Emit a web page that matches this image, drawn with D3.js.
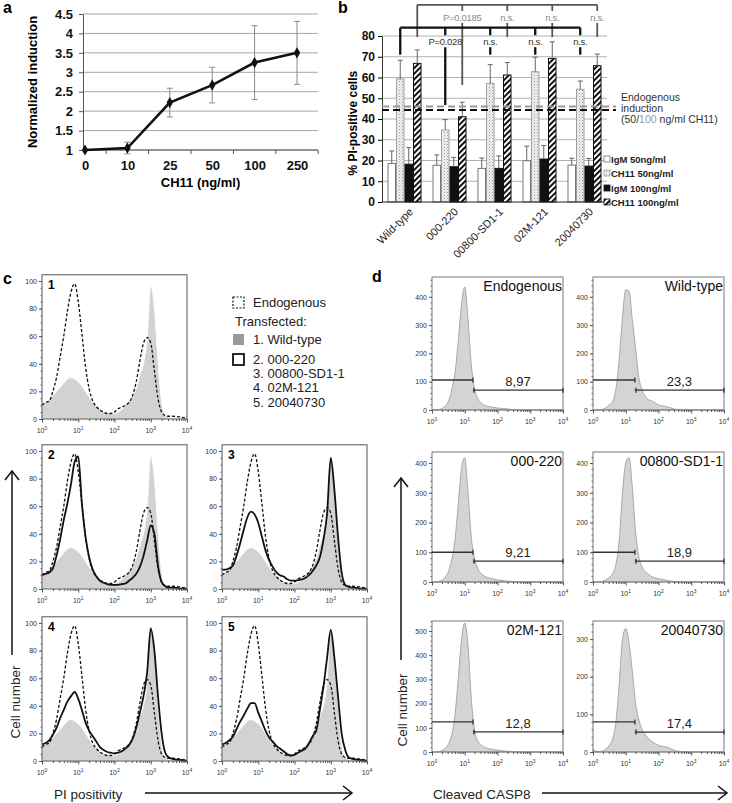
<!DOCTYPE html>
<html>
<head>
<meta charset="utf-8">
<script src="https://cdn.jsdelivr.net/npm/d3@7"></script>
<style>
  body { margin: 0; background: #fff; }
  svg { display: block; }
</style>
</head>
<body>
<div id="fig"></div>
<script>
// ---------- Data: panel a (dose response) ----------
const doseLabels = ['0', '10', '25', '50', '100', '250'];
const induction = [1.0, 1.05, 2.22, 2.67, 3.25, 3.5];
const inductionErr = [0, 0.15, 0.37, 0.46, 0.95, 0.81];
const inductionTicks = [1, 1.5, 2, 2.5, 3, 3.5, 4, 4.5];

// ---------- Data: panel b (% PI-positive cells) ----------
const strains = ['Wild-type', '000-220', '00800-SD1-1', '02M-121', '20040730'];
const treatments = ['IgM 50ng/ml', 'CH11 50ng/ml', 'IgM 100ng/ml', 'CH11 100ng/ml'];
const igm50 = [18.6, 17.7, 16.2, 19.9, 17.8];
const ch11_50 = [59.3, 34.7, 57.2, 62.8, 54.3];
const igm100 = [18.2, 17.0, 16.2, 20.7, 17.3];
const ch11_100 = [66.8, 41.1, 61.2, 69.2, 65.7];
const igm50Err = [6, 5, 5, 7, 3.3];
const ch11_50Err = [9, 5, 9, 7, 4];
const igm100Err = [8, 4.5, 6, 6.5, 3.7];
const ch11_100Err = [6.5, 7, 6, 8, 5.6];
const pctTicks = [0, 10, 20, 30, 40, 50, 60, 70, 80];
const endogenous50 = 44.3;
const endogenous100 = 46;
const pLabels50 = ['', 'P=0.028', 'n.s.', 'n.s.', 'n.s.'];
const pLabels100 = ['', 'P=0.0185', 'n.s.', 'n.s.', 'n.s.'];
const bracketLevel50 = 84;
const bracketLevel100 = 95;
const labelLevel50 = 77;
const labelLevel100 = 88.7;
const dropEnd50 = [71, 46.7, 71, 71, 71];
const dropEnd100 = [79.5, 56.4, 79.5, 79.5, 79.5];

// ---------- Data: panel c (PI histograms, x in log10 units) ----------
const logBins = [0, 0.1, 0.2, 0.3, 0.4, 0.5, 0.6, 0.7, 0.8, 0.9, 1.0, 1.1, 1.2, 1.3, 1.4, 1.5, 1.6, 1.7, 1.8, 1.9,
                 2.0, 2.1, 2.2, 2.3, 2.4, 2.5, 2.6, 2.7, 2.8, 2.9, 3.0, 3.1, 3.2, 3.3, 3.4, 3.5, 3.6, 3.7, 3.8, 3.9, 4.0];
const piEndogenous = [10, 12, 13, 20, 30, 45, 60, 78, 92, 98, 85, 62, 38, 22, 13, 9, 6.5, 5, 4, 4,
                      5, 7.5, 8.5, 10, 12, 17, 27, 42, 55, 59, 55, 35, 15, 5, 2.5, 2, 2, 1.8, 1.5, 1, 0.5];
const piWildType = [10, 12, 14, 17, 20, 23, 26, 29, 30, 29, 27, 24, 20, 16, 12, 9, 7, 5, 4.5, 4,
                    4, 5, 7, 10, 13, 17, 22, 32, 40, 58, 97, 80, 42, 12, 3, 1, 0.5, 0.3, 0.2, 0.1, 0];
const pi000_220 = [10, 11, 12, 15, 24, 36, 50, 62, 76, 92, 96, 62, 38, 23, 14, 9, 6, 4.5, 3.5, 3,
                   3, 3, 3.5, 4, 6, 8, 11, 16, 24, 35, 46, 40, 17, 5, 2, 1, 1, 0.8, 0.5, 0.3, 0.2];
const pi00800 = [14, 14, 15, 17, 24, 33, 43, 52, 56, 54, 48, 38, 28, 21, 16, 12, 10, 9, 7, 6,
                 6, 6.5, 7, 8, 10, 13, 17, 23, 36, 55, 95, 72, 38, 12, 3, 1.5, 1, 0.8, 0.5, 0.3, 0.2];
const pi02M = [12, 13, 15, 19, 24, 31, 37, 43, 47, 50, 45, 37, 28, 22, 18, 14, 10, 8, 6.5, 6,
               5.5, 6, 7, 9, 11.5, 16, 24, 35, 47, 64, 96, 80, 47, 20, 6, 2.5, 1.5, 1, 0.8, 0.5, 0.3];
const pi2004 = [12, 13, 15, 17.5, 23, 28.5, 33, 38, 42, 42, 35, 28.5, 22, 17, 14, 11, 9, 7, 5, 4,
                4.5, 6, 7.5, 9, 13, 18, 22, 37, 54, 75, 95, 75, 47, 20, 8, 2.5, 1.5, 1, 0.8, 0.5, 0.3];
const legendItems = ['1. Wild-type', '2. 000-220', '3. 00800-SD1-1', '4. 02M-121', '5. 20040730'];

// ---------- Data: panel d (cleaved CASP8 histograms) ----------
const casp8Names = ['Endogenous', 'Wild-type', '000-220', '00800-SD1-1', '02M-121', '20040730'];
const casp8Endogenous = [0, 0, 1, 5, 14, 30, 70, 130, 240, 370, 435, 320, 160, 75, 40, 25, 17, 13, 11, 9,
                         7, 6, 5, 4, 2, 1, 0.5, 0.5, 0, 0, 0, 0, 0, 0, 0, 0, 0, 0, 0, 0, 0];
const casp8WildType = [0, 0, 1, 3, 8, 18, 30, 75, 180, 330, 425, 420, 320, 220, 115, 70, 48, 36, 32, 25,
                       18, 15, 13, 10, 7, 3, 1, 0.5, 0, 0, 0, 0, 0, 0, 0, 0, 0, 0, 0, 0, 0];
const casp8_000 = [0, 0, 2, 6, 16, 35, 75, 140, 260, 380, 418, 300, 150, 80, 45, 28, 20, 15, 12, 9,
                   7, 6, 4, 3, 2, 1, 0.5, 0, 0, 0, 0, 0, 0, 0, 0, 0, 0, 0, 0, 0, 0];
const casp8_00800 = [0, 0, 1, 3, 8, 16, 28, 60, 140, 300, 400, 418, 320, 170, 85, 50, 35, 25, 18, 14,
                     11, 9, 7, 5, 3, 1.5, 1, 0.5, 0, 0, 0, 0, 0, 0, 0, 0, 0, 0, 0, 0, 0];
const casp8_02M = [0, 0, 1, 5, 14, 32, 70, 150, 300, 460, 533, 440, 220, 90, 45, 28, 20, 15, 12, 10,
                   8, 6, 4, 3, 2, 1, 0.5, 0, 0, 0, 0, 0, 0, 0, 0, 0, 0, 0, 0, 0, 0];
const casp8_2004 = [8, 2, 1, 3, 8, 18, 35, 80, 180, 300, 328, 290, 215, 130, 85, 60, 45, 35, 28, 22,
                    18, 15, 14, 12, 8, 4, 2, 1, 0.5, 0, 0, 0, 0, 0, 0, 0, 0, 0, 0, 0, 0];
const casp8Percent = ['8,97', '23,3', '9,21', '18,9', '12,8', '17,4'];
const casp8Cut = [1.25, 1.28, 1.25, 1.28, 1.25, 1.28];
const casp8LeftLevel = [106, 106, 100, 100, 124, 80];
const casp8RightLevel = [70, 70, 70, 70, 83, 53];
const casp8Max = [470, 470, 437, 437, 541, 348];

const FONT = "'Liberation Sans', Arial, Helvetica, sans-serif";

const svg = d3.select('#fig')
              .append('svg')
              .attr('width', 732)
              .attr('height', 803)
              .style('font-family', FONT);

function panelLetter(x, y, t) {
    svg.append('text')
       .attr('x', x).attr('y', y)
       .style('font-size', '16px')
       .style('font-weight', 'bold')
       .text(t);
}

// =================== Panel a ===================
panelLetter(3, 13, 'a');

const aX = d3.scalePoint().domain(doseLabels).range([85, 297]);
const aY = d3.scaleLinear().domain([1, 4.5]).range([150, 14]);
const aLeft = 83, aRight = 318;

// Gridlines
svg.append('g')
   .selectAll('line')
   .data(inductionTicks)
   .enter()
   .append('line')
   .attr('x1', aLeft).attr('x2', aRight)
   .attr('y1', (d) => aY(d)).attr('y2', (d) => aY(d))
   .attr('stroke', '#a8a8a8');

// y-axis
svg.append('g')
   .attr('transform', 'translate(' + aLeft + ',0)')
   .call(d3.axisLeft(aY).tickValues(inductionTicks).tickSize(4).tickSizeOuter(0).tickPadding(6).tickFormat(d3.format('')))
   .attr('font-family', FONT)
   .call((g) => g.select('.domain').attr('stroke', '#555'))
   .call((g) => g.selectAll('line').attr('stroke', '#555'))
   .call((g) => g.selectAll('text').style('font-size', '13px').style('font-weight', 'bold').attr('fill', '#111'));

// x-axis (ticks between categories)
svg.append('line')
   .attr('x1', aLeft).attr('x2', aRight)
   .attr('y1', aY(1)).attr('y2', aY(1))
   .attr('stroke', '#555');
svg.append('g')
   .selectAll('line')
   .data(doseLabels)
   .enter()
   .append('line')
   .attr('x1', (d) => aX(d) + aX.step() / 2).attr('x2', (d) => aX(d) + aX.step() / 2)
   .attr('y1', aY(1)).attr('y2', aY(1) + 4)
   .attr('stroke', '#555');
svg.append('g')
   .attr('transform', 'translate(0,' + aY(1) + ')')
   .call(d3.axisBottom(aX).tickSize(0).tickPadding(11))
   .attr('font-family', FONT)
   .call((g) => g.select('.domain').remove())
   .call((g) => g.selectAll('text').style('font-size', '13px').style('font-weight', 'bold').attr('fill', '#111'));

// Error bars
const aErr = svg.append('g').attr('stroke', '#8a8a8a').attr('stroke-width', 1);
doseLabels.forEach(function (d, i) {
    if (inductionErr[i] === 0) return;
    const x = aX(d);
    const lo = aY(induction[i] - inductionErr[i]);
    const hi = aY(induction[i] + inductionErr[i]);
    aErr.append('line').attr('x1', x).attr('x2', x).attr('y1', lo).attr('y2', hi);
    aErr.append('line').attr('x1', x - 3).attr('x2', x + 3).attr('y1', lo).attr('y2', lo);
    aErr.append('line').attr('x1', x - 3).attr('x2', x + 3).attr('y1', hi).attr('y2', hi);
});

// Line + diamond markers
svg.append('path')
   .datum(induction)
   .attr('fill', 'none')
   .attr('stroke', '#111')
   .attr('stroke-width', 2.6)
   .attr('d', d3.line().x((d, i) => aX(doseLabels[i])).y((d) => aY(d)));

svg.selectAll('path.diamond')
   .data(induction)
   .enter()
   .append('path')
   .attr('class', 'diamond')
   .attr('transform', (d, i) => 'translate(' + aX(doseLabels[i]) + ',' + aY(d) + ')')
   .attr('d', d3.symbol(d3.symbolDiamond).size(36))
   .attr('fill', '#111');

// Axis titles
svg.append('text')
   .attr('x', (aLeft + aRight) / 2).attr('y', 187)
   .attr('text-anchor', 'middle')
   .style('font-size', '13px').style('font-weight', 'bold')
   .text('CH11 (ng/ml)');
svg.append('text')
   .attr('text-anchor', 'middle')
   .attr('transform', 'translate(37,' + (aY(1) + aY(4.5)) / 2 + ')rotate(-90)')
   .style('font-size', '13px').style('font-weight', 'bold')
   .text('Normalized induction');

// =================== Panel b ===================
panelLetter(338, 13, 'b');

const defs = svg.append('defs');
const dots = defs.append('pattern')
                 .attr('id', 'dots')
                 .attr('patternUnits', 'userSpaceOnUse')
                 .attr('width', 3).attr('height', 3);
dots.append('rect').attr('width', 3).attr('height', 3).attr('fill', '#f2f2f2');
dots.append('rect').attr('width', 1).attr('height', 1).attr('fill', '#9a9a9a');
dots.append('rect').attr('x', 1.5).attr('y', 1.5).attr('width', 1).attr('height', 1).attr('fill', '#bbbbbb');

const hatch = defs.append('pattern')
                  .attr('id', 'hatch')
                  .attr('patternUnits', 'userSpaceOnUse')
                  .attr('width', 4).attr('height', 4)
                  .attr('patternTransform', 'rotate(45)');
hatch.append('rect').attr('width', 4).attr('height', 4).attr('fill', '#fff');
hatch.append('line').attr('x1', 1).attr('x2', 1).attr('y1', 0).attr('y2', 4)
     .attr('stroke', '#111').attr('stroke-width', 2);

const bX = d3.scaleBand().domain(strains).range([382, 607]).paddingInner(0.244).paddingOuter(0.122);
const bSub = d3.scaleBand().domain(treatments).range([0, bX.bandwidth()]);
const bY = d3.scaleLinear().domain([0, 80]).range([202, 36]);

const seriesValues = [igm50, ch11_50, igm100, ch11_100];
const seriesErr = [igm50Err, ch11_50Err, igm100Err, ch11_100Err];
const barFill = ['#ffffff', 'url(#dots)', '#111111', 'url(#hatch)'];
const barStroke = ['#777', '#a0a0a0', '#111', '#111'];

// Gridlines
svg.append('g')
   .selectAll('line')
   .data(pctTicks.slice(1))
   .enter()
   .append('line')
   .attr('x1', 382).attr('x2', 607)
   .attr('y1', (d) => bY(d)).attr('y2', (d) => bY(d))
   .attr('stroke', '#b0b0b0');

// Bars
const barRows = [];
strains.forEach(function (s, i) {
    treatments.forEach(function (t, j) {
        barRows.push({ s: s, t: t, j: j, v: seriesValues[j][i], e: seriesErr[j][i] });
    });
});

svg.append('g')
   .selectAll('rect')
   .data(barRows)
   .enter()
   .append('rect')
   .attr('x', (d) => bX(d.s) + bSub(d.t) + 0.5)
   .attr('y', (d) => bY(d.v))
   .attr('width', bSub.bandwidth() - 1)
   .attr('height', (d) => bY(0) - bY(d.v))
   .attr('fill', (d) => barFill[d.j])
   .attr('stroke', (d) => barStroke[d.j])
   .attr('stroke-width', 1);

// Error bars (upper only)
const bErr = svg.append('g').attr('stroke', '#666').attr('stroke-width', 1);
barRows.forEach(function (d) {
    const x = bX(d.s) + bSub(d.t) + bSub.bandwidth() / 2;
    bErr.append('line').attr('x1', x).attr('x2', x).attr('y1', bY(d.v)).attr('y2', bY(d.v + d.e));
    bErr.append('line').attr('x1', x - 2.5).attr('x2', x + 2.5).attr('y1', bY(d.v + d.e)).attr('y2', bY(d.v + d.e));
});

// Axes
svg.append('line')
   .attr('x1', 382).attr('x2', 607)
   .attr('y1', bY(0)).attr('y2', bY(0))
   .attr('stroke', '#222');
svg.append('g')
   .attr('transform', 'translate(382,0)')
   .call(d3.axisLeft(bY).tickValues(pctTicks).tickSize(4).tickSizeOuter(0).tickPadding(3))
   .attr('font-family', FONT)
   .call((g) => g.select('.domain').attr('stroke', '#333'))
   .call((g) => g.selectAll('text').style('font-size', '12px').style('font-weight', 'bold').attr('fill', '#111'));

svg.append('g')
   .selectAll('text')
   .data(strains)
   .enter()
   .append('text')
   .attr('text-anchor', 'end')
   .attr('transform', (d) => 'translate(' + (bX(d) + bX.bandwidth() / 2 + 4) + ',' + (bY(0) + 5) + ')rotate(-45)')
   .attr('dy', '0.7em')
   .style('font-size', '11px')
   .attr('fill', '#222')
   .text((d) => d);

svg.append('text')
   .attr('text-anchor', 'middle')
   .attr('transform', 'translate(357,' + bY(38) + ')rotate(-90)')
   .style('font-size', '12px').style('font-weight', 'bold')
   .text('% PI-positive cells');

// Endogenous induction dashed lines
[[endogenous100, '#9a9a9a'], [endogenous50, '#111']].forEach(function (e) {
    svg.append('line')
       .attr('x1', 382).attr('x2', 616)
       .attr('y1', bY(e[0])).attr('y2', bY(e[0]))
       .attr('stroke', e[1])
       .attr('stroke-width', 2)
       .attr('stroke-dasharray', '7,4');
});
const endoText = svg.append('g').style('font-size', '10.5px').attr('fill', '#333');
endoText.append('text').attr('x', 621).attr('y', 101).text('Endogenous');
endoText.append('text').attr('x', 621).attr('y', 112).text('induction');
const endoLast = endoText.append('text').attr('x', 621).attr('y', 123);
endoLast.append('tspan').text('(50/');
endoLast.append('tspan').attr('fill', '#999').text('100');
endoLast.append('tspan').text(' ng/ml CH11)');

// Significance brackets
function bracket(j, level, labelLevel, labels, ends, color, width, labelColor) {
    const g = svg.append('g').attr('stroke', color).attr('stroke-width', width).attr('fill', 'none');
    const xs = strains.map((s) => bX(s) + bSub(treatments[j]) + bSub.bandwidth() / 2);
    g.append('line')
     .attr('x1', xs[0]).attr('x2', xs[xs.length - 1])
     .attr('y1', bY(level)).attr('y2', bY(level));
    strains.forEach(function (s, i) {
        if (labels[i] === '') {
            g.append('line').attr('x1', xs[i]).attr('x2', xs[i])
             .attr('y1', bY(level)).attr('y2', bY(ends[i]));
        } else {
            g.append('line').attr('x1', xs[i]).attr('x2', xs[i])
             .attr('y1', bY(level)).attr('y2', bY(labelLevel) - 7);
            g.append('line').attr('x1', xs[i]).attr('x2', xs[i])
             .attr('y1', bY(labelLevel) + 5).attr('y2', bY(ends[i]));
            svg.append('text')
               .attr('x', xs[i]).attr('y', bY(labelLevel) + 3)
               .attr('text-anchor', 'middle')
               .style('font-size', '9.5px')
               .style('letter-spacing', '-0.3px')
               .attr('fill', labelColor)
               .text(labels[i]);
        }
    });
}
bracket(3, bracketLevel100, labelLevel100, pLabels100, dropEnd100, '#555', 1.8, '#8a8a8a');
bracket(1, bracketLevel50, labelLevel50, pLabels50, dropEnd50, '#111', 2.3, '#333');

// Legend
const bLegend = svg.append('g');
treatments.forEach(function (t, j) {
    const y = [160, 174, 189, 203][j];
    bLegend.append('rect')
           .attr('x', 604).attr('y', y - 4)
           .attr('width', 6).attr('height', 6)
           .attr('fill', barFill[j]).attr('stroke', barStroke[j]).attr('stroke-width', 0.8);
    bLegend.append('text')
           .attr('x', 611).attr('y', y + 2.5)
           .style('font-size', '9.5px').style('font-weight', 'bold')
           .attr('fill', '#222')
           .text(t);
});

// =================== Shared flow-histogram helpers ===================
function logXAxis(g, fx, y0) {
    const minor = [];
    [0, 1, 2, 3].forEach(function (dec) {
        for (let k = 2; k < 10; k++) minor.push(dec + Math.log10(k));
    });
    g.append('g')
     .attr('transform', 'translate(0,' + y0 + ')')
     .call(d3.axisBottom(fx).tickValues(minor).tickSize(2).tickFormat(''))
     .call((a) => a.select('.domain').remove())
     .call((a) => a.selectAll('line').attr('stroke', '#555'));
    g.append('g')
     .attr('transform', 'translate(0,' + y0 + ')')
     .call(d3.axisBottom(fx).tickValues([0, 1, 2, 3, 4]).tickSize(3.5).tickFormat(''))
     .call((a) => a.select('.domain').remove())
     .call((a) => a.selectAll('line').attr('stroke', '#555'));
    [0, 1, 2, 3, 4].forEach(function (p) {
        const t = g.append('text')
                   .attr('x', fx(p)).attr('y', y0 + 14)
                   .attr('text-anchor', 'middle')
                   .attr('fill', '#333');
        t.append('tspan').style('font-size', '7px').text('10');
        t.append('tspan').style('font-size', '5px').attr('dy', -3.5).text(p);
    });
}

function countYAxis(g, fy, x0, major, minor) {
    g.append('g')
     .attr('transform', 'translate(' + x0 + ',0)')
     .call(d3.axisLeft(fy).tickValues(minor).tickSize(1.5).tickFormat(''))
     .call((a) => a.select('.domain').remove())
     .call((a) => a.selectAll('line').attr('stroke', '#666'));
    g.append('g')
     .attr('transform', 'translate(' + x0 + ',0)')
     .call(d3.axisLeft(fy).tickValues(major).tickSize(3).tickPadding(2))
     .attr('font-family', FONT)
     .call((a) => a.select('.domain').remove())
     .call((a) => a.selectAll('line').attr('stroke', '#555'))
     .call((a) => a.selectAll('text').style('font-size', '7px').attr('fill', '#333'));
}

// =================== Panel c ===================
panelLetter(3, 284, 'c');

const piLayout = [
    { id: '1', series: null,      x0: 42,  y0: 419 },
    { id: '2', series: pi000_220, x0: 42,  y0: 589 },
    { id: '3', series: pi00800,   x0: 222, y0: 589 },
    { id: '4', series: pi02M,     x0: 42,  y0: 761 },
    { id: '5', series: pi2004,    x0: 222, y0: 761 }
];

piLayout.forEach(function (p) {
    const g = svg.append('g');
    const fx = d3.scaleLinear().domain([0, 4]).range([p.x0, p.x0 + 145]);
    const fy = d3.scaleLinear().domain([0, 100]).range([p.y0, p.y0 - 138]);
    const top = fy(104.5);

    g.append('path')
     .datum(piWildType)
     .attr('fill', '#d2d2d2')
     .attr('stroke', '#fff')
     .attr('stroke-width', 0.8)
     .attr('d', d3.area().curve(d3.curveMonotoneX)
                  .x((d, i) => fx(logBins[i])).y0(p.y0).y1((d) => fy(d)));

    if (p.series) {
        g.append('path')
         .datum(p.series)
         .attr('fill', 'none')
         .attr('stroke', '#111')
         .attr('stroke-width', 1.8)
         .attr('d', d3.line().curve(d3.curveMonotoneX)
                      .x((d, i) => fx(logBins[i])).y((d) => fy(d)));
    }

    g.append('path')
     .datum(piEndogenous)
     .attr('fill', 'none')
     .attr('stroke', '#111')
     .attr('stroke-width', 1.3)
     .attr('stroke-dasharray', '3,2')
     .attr('d', d3.line().curve(d3.curveMonotoneX)
                  .x((d, i) => fx(logBins[i])).y((d) => fy(d)));

    g.append('rect')
     .attr('x', p.x0).attr('y', top)
     .attr('width', 145).attr('height', p.y0 - top)
     .attr('fill', 'none')
     .attr('stroke', '#555');

    logXAxis(g, fx, p.y0);
    countYAxis(g, fy, p.x0, [0, 20, 40, 60, 80, 100], d3.range(0, 101, 5));

    g.append('text')
     .attr('x', p.x0 + 6).attr('y', top + 14)
     .style('font-size', '12px').style('font-weight', 'bold')
     .text(p.id);
});

// Legend for c
const cLeg = svg.append('g').style('font-size', '13px').attr('fill', '#222');
cLeg.append('rect').attr('x', 233).attr('y', 297).attr('width', 11).attr('height', 11)
    .attr('fill', '#fff').attr('stroke', '#111').attr('stroke-width', 1.2).attr('stroke-dasharray', '2,1.5');
cLeg.append('text').attr('x', 253).attr('y', 307).text('Endogenous');
cLeg.append('text').attr('x', 235).attr('y', 326).text('Transfected:');
cLeg.append('rect').attr('x', 233).attr('y', 334).attr('width', 11).attr('height', 11).attr('fill', '#9a9a9a');
cLeg.append('rect').attr('x', 233).attr('y', 354).attr('width', 11).attr('height', 11)
    .attr('fill', '#fff').attr('stroke', '#111').attr('stroke-width', 1.8);
legendItems.forEach(function (t, i) {
    cLeg.append('text')
        .attr('x', 253).attr('y', [344, 364, 378, 392, 407][i])
        .text(t);
});

// Axis annotations for c
svg.append('text')
   .attr('text-anchor', 'middle')
   .attr('transform', 'translate(20,702)rotate(-90)')
   .style('font-size', '13.5px').attr('fill', '#222')
   .text('Cell number');
svg.append('line').attr('x1', 12).attr('x2', 12).attr('y1', 655).attr('y2', 471)
   .attr('stroke', '#111').attr('stroke-width', 1.5);
svg.append('path').attr('d', 'M5,480L12,471L19,480').attr('fill', 'none')
   .attr('stroke', '#111').attr('stroke-width', 1.5);
svg.append('text')
   .attr('x', 54).attr('y', 799)
   .style('font-size', '13.5px').attr('fill', '#222')
   .text('PI positivity');
svg.append('line').attr('x1', 145).attr('x2', 351).attr('y1', 793).attr('y2', 793)
   .attr('stroke', '#111').attr('stroke-width', 1.5);
svg.append('path').attr('d', 'M343,786L352,793L343,800').attr('fill', 'none')
   .attr('stroke', '#111').attr('stroke-width', 1.5);

// =================== Panel d ===================
panelLetter(372, 282, 'd');

const casp8Series = [casp8Endogenous, casp8WildType, casp8_000, casp8_00800, casp8_02M, casp8_2004];
const casp8Layout = [
    { x0: 432, y0: 410, top: 277 }, { x0: 593, y0: 410, top: 277 },
    { x0: 432, y0: 582, top: 452 }, { x0: 593, y0: 582, top: 452 },
    { x0: 432, y0: 752, top: 621 }, { x0: 593, y0: 752, top: 621 }
];

casp8Layout.forEach(function (p, i) {
    const g = svg.append('g');
    const fx = d3.scaleLinear().domain([0, 4]).range([p.x0, p.x0 + 131]);
    const fy = d3.scaleLinear().domain([0, casp8Max[i]]).range([p.y0, p.top]);

    g.append('path')
     .datum(casp8Series[i])
     .attr('fill', '#d4d4d4')
     .attr('stroke', '#8c8c8c')
     .attr('stroke-width', 0.7)
     .attr('d', d3.area().curve(d3.curveMonotoneX)
                  .x((d, k) => fx(logBins[k])).y0(p.y0).y1((d) => fy(d)));

    g.append('rect')
     .attr('x', p.x0).attr('y', p.top)
     .attr('width', 131).attr('height', p.y0 - p.top)
     .attr('fill', 'none')
     .attr('stroke', '#777');

    logXAxis(g, fx, p.y0);
    countYAxis(g, fy, p.x0, d3.range(0, casp8Max[i], 100), d3.range(0, casp8Max[i], 20));

    // Gate markers
    const gate = g.append('g').attr('stroke', '#333').attr('stroke-width', 1.3);
    const xc = fx(casp8Cut[i]);
    const yl = fy(casp8LeftLevel[i]);
    const yr = fy(casp8RightLevel[i]);
    gate.append('line').attr('x1', fx(0)).attr('x2', xc).attr('y1', yl).attr('y2', yl);
    gate.append('line').attr('x1', xc).attr('x2', xc).attr('y1', yl - 2.5).attr('y2', yl + 2.5);
    gate.append('line').attr('x1', xc).attr('x2', fx(4)).attr('y1', yr).attr('y2', yr);
    gate.append('line').attr('x1', xc + 1).attr('x2', xc + 1).attr('y1', yr - 2.5).attr('y2', yr + 2.5);
    gate.append('line').attr('x1', fx(4)).attr('x2', fx(4)).attr('y1', yr - 2.5).attr('y2', yr + 2.5);

    g.append('text')
     .attr('x', (xc + fx(4)) / 2).attr('y', yr - 4)
     .attr('text-anchor', 'middle')
     .style('font-size', '13px').attr('fill', '#222')
     .text(casp8Percent[i]);

    g.append('text')
     .attr('x', p.x0 + 130).attr('y', p.top + 14)
     .attr('text-anchor', 'end')
     .style('font-size', '14px').attr('fill', '#111')
     .text(casp8Names[i]);
});

svg.append('text')
   .attr('text-anchor', 'middle')
   .attr('transform', 'translate(407,710)rotate(-90)')
   .style('font-size', '13.5px').attr('fill', '#222')
   .text('Cell number');
svg.append('line').attr('x1', 401).attr('x2', 401).attr('y1', 660).attr('y2', 478)
   .attr('stroke', '#111').attr('stroke-width', 1.5);
svg.append('path').attr('d', 'M394,487L401,478L408,487').attr('fill', 'none')
   .attr('stroke', '#111').attr('stroke-width', 1.5);
svg.append('text')
   .attr('x', 433).attr('y', 799)
   .style('font-size', '13.5px').attr('fill', '#222')
   .text('Cleaved CASP8');
svg.append('line').attr('x1', 542).attr('x2', 726).attr('y1', 793).attr('y2', 793)
   .attr('stroke', '#111').attr('stroke-width', 1.5);
svg.append('path').attr('d', 'M718,786L727,793L718,800').attr('fill', 'none')
   .attr('stroke', '#111').attr('stroke-width', 1.5);
</script>
</body>
</html>
